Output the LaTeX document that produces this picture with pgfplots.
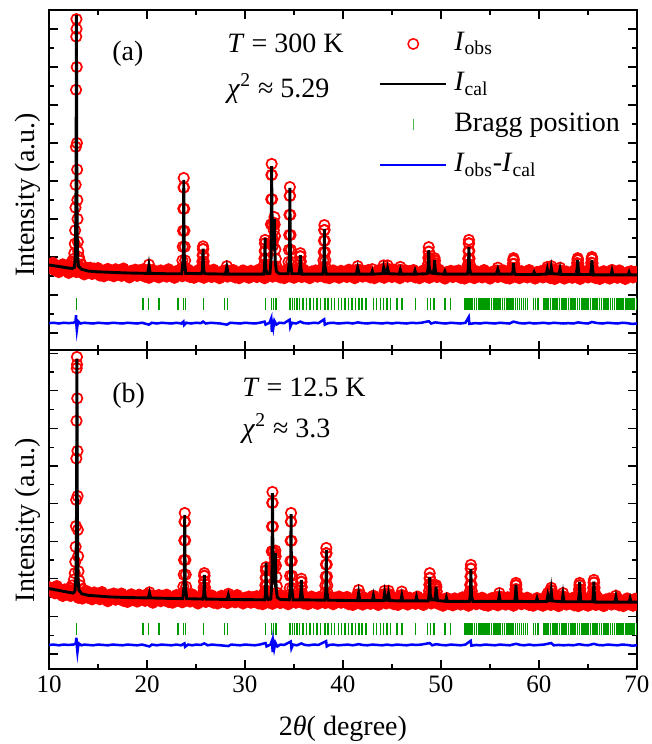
\documentclass[border=0pt]{standalone}
\usepackage{fontspec}
\setmainfont{Liberation Serif}
\usepackage{pgfplots}
\usepackage{pgfplotstable}
\pgfplotsset{compat=1.18}

\definecolor{braggc}{RGB}{0,155,0}

% observed intensity on a 0.2 deg grid: x, panel (a), panel (b)
\pgfplotstableread[row sep=\\]{
x a b\\
10.0 1.82 1.78\\ 10.2 1.70 1.67\\ 10.4 1.85 1.74\\ 10.6 1.65 1.61\\ 10.8 1.76 1.81\\
11.0 1.60 1.60\\ 11.2 1.77 1.68\\ 11.4 1.81 1.54\\ 11.6 1.65 1.72\\ 11.8 1.72 1.64\\
12.0 1.58 1.71\\ 12.2 1.77 1.54\\ 12.4 1.66 1.69\\ 12.6 1.73 1.57\\ 12.8 1.60 1.72\\
13.0 1.77 1.49\\ 13.2 1.60 1.60\\ 13.4 1.68 1.47\\ 13.6 1.54 1.64\\ 13.8 1.72 1.68\\
14.0 1.61 1.49\\ 14.2 1.72 1.56\\ 14.4 1.55 1.45\\ 14.6 1.70 1.64\\ 14.8 1.58 1.53\\
15.0 1.71 1.58\\ 15.2 1.51 1.45\\ 15.4 1.62 1.65\\ 15.6 1.49 1.48\\ 15.8 1.66 1.56\\
16.0 1.69 1.40\\ 16.2 1.53 1.58\\ 16.4 1.60 1.50\\ 16.6 1.49 1.61\\ 16.8 1.68 1.44\\
17.0 1.56 1.58\\ 17.2 1.63 1.46\\ 17.4 1.50 1.61\\ 17.6 1.70 1.41\\ 17.8 1.53 1.52\\
18.0 1.60 1.38\\ 18.2 1.46 1.55\\ 18.4 1.64 1.59\\ 18.6 1.56 1.43\\ 18.8 1.67 1.50\\
19.0 1.50 1.39\\ 19.2 1.65 1.58\\ 19.4 1.53 1.47\\ 19.6 1.68 1.54\\ 19.8 1.48 1.41\\
20.0 1.58 1.59\\ 20.2 1.45 1.42\\ 20.4 1.62 1.50\\ 20.6 1.66 1.36\\ 20.8 1.50 1.54\\
21.0 1.57 1.46\\ 21.2 1.46 1.57\\ 21.4 1.65 1.40\\ 21.6 1.54 1.55\\ 21.8 1.61 1.43\\
22.0 1.48 1.58\\ 22.2 1.68 1.38\\ 22.4 1.51 1.49\\ 22.6 1.59 1.36\\ 22.8 1.45 1.53\\
23.0 1.63 1.57\\ 23.2 1.55 1.41\\ 23.4 1.66 1.48\\ 23.6 1.49 1.37\\ 23.8 1.64 1.56\\
24.0 1.52 1.45\\ 24.2 1.67 1.52\\ 24.4 1.47 1.39\\ 24.6 1.58 1.59\\ 24.8 1.45 1.42\\
25.0 1.61 1.48\\ 25.2 1.65 1.34\\ 25.4 1.49 1.52\\ 25.6 1.56 1.44\\ 25.8 1.45 1.55\\
26.0 1.64 1.38\\ 26.2 1.53 1.53\\ 26.4 1.60 1.41\\ 26.6 1.47 1.56\\ 26.8 1.67 1.36\\
27.0 1.50 1.47\\ 27.2 1.58 1.34\\ 27.4 1.44 1.51\\ 27.6 1.62 1.55\\ 27.8 1.54 1.39\\
28.0 1.65 1.46\\ 28.2 1.48 1.35\\ 28.4 1.63 1.54\\ 28.6 1.51 1.43\\ 28.8 1.66 1.50\\
29.0 1.46 1.37\\ 29.2 1.57 1.57\\ 29.4 1.44 1.40\\ 29.6 1.61 1.48\\ 29.8 1.65 1.34\\
30.0 1.49 1.50\\ 30.2 1.56 1.42\\ 30.4 1.45 1.53\\ 30.6 1.64 1.36\\ 30.8 1.53 1.51\\
31.0 1.60 1.39\\ 31.2 1.47 1.54\\ 31.4 1.67 1.34\\ 31.6 1.50 1.45\\ 31.8 1.58 1.32\\
32.0 1.44 1.49\\ 32.2 1.62 1.53\\ 32.4 1.54 1.37\\ 32.6 1.65 1.44\\ 32.8 1.48 1.33\\
33.0 1.63 1.52\\ 33.2 1.51 1.41\\ 33.4 1.66 1.48\\ 33.6 1.46 1.35\\ 33.8 1.57 1.55\\
34.0 1.44 1.38\\ 34.2 1.61 1.46\\ 34.4 1.65 1.32\\ 34.6 1.49 1.50\\ 34.8 1.56 1.42\\
35.0 1.45 1.53\\ 35.2 1.64 1.36\\ 35.4 1.53 1.51\\ 35.6 1.60 1.39\\ 35.8 1.47 1.54\\
36.0 1.67 1.34\\ 36.2 1.50 1.45\\ 36.4 1.58 1.32\\ 36.6 1.44 1.49\\ 36.8 1.62 1.53\\
37.0 1.54 1.37\\ 37.2 1.65 1.44\\ 37.4 1.48 1.33\\ 37.6 1.63 1.52\\ 37.8 1.51 1.41\\
38.0 1.66 1.48\\ 38.2 1.46 1.35\\ 38.4 1.57 1.55\\ 38.6 1.44 1.38\\ 38.8 1.61 1.46\\
39.0 1.65 1.32\\ 39.2 1.49 1.50\\ 39.4 1.56 1.42\\ 39.6 1.45 1.53\\ 39.8 1.64 1.36\\
40.0 1.53 1.49\\ 40.2 1.60 1.37\\ 40.4 1.47 1.52\\ 40.6 1.67 1.32\\ 40.8 1.50 1.43\\
41.0 1.58 1.30\\ 41.2 1.44 1.47\\ 41.4 1.62 1.51\\ 41.6 1.54 1.35\\ 41.8 1.65 1.42\\
42.0 1.48 1.31\\ 42.2 1.63 1.50\\ 42.4 1.51 1.39\\ 42.6 1.66 1.46\\ 42.8 1.46 1.33\\
43.0 1.57 1.53\\ 43.2 1.44 1.36\\ 43.4 1.61 1.44\\ 43.6 1.65 1.30\\ 43.8 1.49 1.48\\
44.0 1.56 1.40\\ 44.2 1.45 1.51\\ 44.4 1.64 1.34\\ 44.6 1.53 1.49\\ 44.8 1.60 1.37\\
45.0 1.47 1.52\\ 45.2 1.67 1.32\\ 45.4 1.50 1.43\\ 45.6 1.58 1.30\\ 45.8 1.44 1.47\\
46.0 1.62 1.51\\ 46.2 1.54 1.35\\ 46.4 1.65 1.42\\ 46.6 1.48 1.31\\ 46.8 1.63 1.50\\
47.0 1.51 1.39\\ 47.2 1.66 1.46\\ 47.4 1.46 1.33\\ 47.6 1.57 1.53\\ 47.8 1.44 1.36\\
48.0 1.61 1.44\\ 48.2 1.65 1.30\\ 48.4 1.49 1.48\\ 48.6 1.56 1.40\\ 48.8 1.45 1.51\\
49.0 1.64 1.34\\ 49.2 1.53 1.49\\ 49.4 1.60 1.37\\ 49.6 1.47 1.52\\ 49.8 1.67 1.32\\
50.0 1.49 1.41\\ 50.2 1.57 1.28\\ 50.4 1.43 1.45\\ 50.6 1.61 1.49\\ 50.8 1.53 1.33\\
51.0 1.64 1.40\\ 51.2 1.47 1.29\\ 51.4 1.62 1.48\\ 51.6 1.50 1.37\\ 51.8 1.65 1.44\\
52.0 1.45 1.31\\ 52.2 1.56 1.51\\ 52.4 1.43 1.34\\ 52.6 1.60 1.42\\ 52.8 1.64 1.28\\
53.0 1.48 1.46\\ 53.2 1.55 1.38\\ 53.4 1.44 1.49\\ 53.6 1.63 1.32\\ 53.8 1.52 1.47\\
54.0 1.59 1.35\\ 54.2 1.46 1.50\\ 54.4 1.66 1.30\\ 54.6 1.49 1.41\\ 54.8 1.57 1.28\\
55.0 1.43 1.45\\ 55.2 1.61 1.49\\ 55.4 1.53 1.33\\ 55.6 1.64 1.40\\ 55.8 1.47 1.29\\
56.0 1.62 1.48\\ 56.2 1.50 1.37\\ 56.4 1.65 1.44\\ 56.6 1.45 1.31\\ 56.8 1.56 1.51\\
57.0 1.43 1.34\\ 57.2 1.60 1.42\\ 57.4 1.64 1.28\\ 57.6 1.48 1.46\\ 57.8 1.55 1.38\\
58.0 1.44 1.49\\ 58.2 1.63 1.32\\ 58.4 1.52 1.47\\ 58.6 1.59 1.35\\ 58.8 1.46 1.50\\
59.0 1.66 1.30\\ 59.2 1.49 1.41\\ 59.4 1.57 1.28\\ 59.6 1.43 1.45\\ 59.8 1.61 1.49\\
60.0 1.52 1.32\\ 60.2 1.63 1.39\\ 60.4 1.46 1.28\\ 60.6 1.61 1.47\\ 60.8 1.49 1.36\\
61.0 1.64 1.43\\ 61.2 1.44 1.30\\ 61.4 1.55 1.50\\ 61.6 1.42 1.33\\ 61.8 1.59 1.41\\
62.0 1.63 1.27\\ 62.2 1.47 1.45\\ 62.4 1.54 1.37\\ 62.6 1.43 1.48\\ 62.8 1.62 1.31\\
63.0 1.51 1.46\\ 63.2 1.58 1.34\\ 63.4 1.45 1.49\\ 63.6 1.65 1.29\\ 63.8 1.48 1.40\\
64.0 1.56 1.27\\ 64.2 1.42 1.44\\ 64.4 1.60 1.48\\ 64.6 1.52 1.32\\ 64.8 1.63 1.39\\
65.0 1.46 1.28\\ 65.2 1.61 1.47\\ 65.4 1.49 1.36\\ 65.6 1.64 1.43\\ 65.8 1.44 1.30\\
66.0 1.55 1.50\\ 66.2 1.42 1.33\\ 66.4 1.59 1.41\\ 66.6 1.63 1.27\\ 66.8 1.47 1.45\\
67.0 1.54 1.37\\ 67.2 1.43 1.48\\ 67.4 1.62 1.31\\ 67.6 1.51 1.46\\ 67.8 1.58 1.34\\
68.0 1.45 1.49\\ 68.2 1.65 1.29\\ 68.4 1.48 1.40\\ 68.6 1.56 1.27\\ 68.8 1.42 1.44\\
69.0 1.60 1.48\\ 69.2 1.52 1.32\\ 69.4 1.63 1.39\\ 69.6 1.46 1.28\\ 69.8 1.61 1.47\\
70.0 1.49 1.36\\
}\obsgrid

% Bragg reflections: x, tick height in (a), in (b)
\pgfplotstableread[row sep=\\]{
x ya yb\\
12.80 0.76 0.66\\ 19.60 0.76 0.66\\ 20.13 0.76 0.66\\ 21.22 0.76 0.66\\ 23.18 0.76 0.66\\
23.70 0.76 0.66\\ 23.92 0.76 0.66\\ 25.76 0.76 0.66\\ 27.88 0.76 0.66\\ 28.20 0.76 0.66\\
32.10 0.76 0.66\\ 32.72 0.76 0.66\\ 32.92 0.76 0.66\\ 33.18 0.76 0.66\\ 34.60 0.76 0.66\\
34.82 0.76 0.66\\ 35.05 0.76 0.66\\ 35.30 0.76 0.66\\ 35.58 0.76 0.66\\ 35.90 0.76 0.66\\
36.25 0.76 0.66\\ 36.62 0.76 0.66\\ 37.00 0.76 0.66\\ 37.35 0.76 0.66\\ 37.70 0.76 0.66\\
38.15 0.76 0.66\\ 38.45 0.76 0.66\\ 38.80 0.76 0.66\\ 39.15 0.76 0.66\\ 39.52 0.76 0.66\\
39.85 0.76 0.66\\ 40.20 0.76 0.66\\ 40.55 0.76 0.66\\ 40.92 0.76 0.66\\ 41.30 0.76 0.66\\
41.62 0.76 0.66\\ 41.95 0.76 0.66\\ 42.35 0.76 0.66\\ 43.10 0.76 0.66\\ 43.42 0.76 0.66\\
43.80 0.76 0.66\\ 44.15 0.76 0.66\\ 44.50 0.76 0.66\\ 44.85 0.76 0.66\\ 45.52 0.76 0.66\\
46.02 0.76 0.66\\ 47.38 0.76 0.66\\ 48.60 0.76 0.66\\ 48.92 0.76 0.66\\ 49.28 0.76 0.66\\
50.42 0.76 0.66\\ 50.95 0.76 0.66\\ 52.45 0.76 0.66\\ 52.65 0.76 0.66\\ 52.85 0.76 0.66\\
53.05 0.76 0.66\\ 53.22 0.76 0.66\\ 53.42 0.76 0.66\\ 53.62 0.76 0.66\\ 53.80 0.76 0.66\\
53.98 0.76 0.66\\ 54.20 0.76 0.66\\ 54.40 0.76 0.66\\ 54.58 0.76 0.66\\ 54.78 0.76 0.66\\
54.95 0.76 0.66\\ 55.15 0.76 0.66\\ 55.35 0.76 0.66\\ 55.52 0.76 0.66\\ 55.72 0.76 0.66\\
55.90 0.76 0.66\\ 56.10 0.76 0.66\\ 56.30 0.76 0.66\\ 56.48 0.76 0.66\\ 56.68 0.76 0.66\\
56.85 0.76 0.66\\ 57.05 0.76 0.66\\ 57.25 0.76 0.66\\ 57.42 0.76 0.66\\ 57.62 0.76 0.66\\
57.80 0.76 0.66\\ 58.00 0.76 0.66\\ 58.20 0.76 0.66\\ 58.40 0.76 0.66\\ 58.62 0.76 0.66\\
58.80 0.76 0.66\\ 59.42 0.76 0.66\\ 59.62 0.76 0.66\\ 59.88 0.76 0.66\\ 60.45 0.76 0.66\\
60.62 0.76 0.66\\ 60.80 0.76 0.66\\ 60.98 0.76 0.66\\ 61.15 0.76 0.66\\ 61.35 0.76 0.66\\
61.52 0.76 0.66\\ 61.72 0.76 0.66\\ 61.90 0.76 0.66\\ 62.08 0.76 0.66\\ 62.28 0.76 0.66\\
62.45 0.76 0.66\\ 62.65 0.76 0.66\\ 62.82 0.76 0.66\\ 63.00 0.76 0.66\\ 63.20 0.76 0.66\\
63.38 0.76 0.66\\ 63.58 0.76 0.66\\ 63.75 0.76 0.66\\ 63.95 0.76 0.66\\ 64.12 0.76 0.66\\
64.32 0.76 0.66\\ 64.50 0.76 0.66\\ 64.70 0.76 0.66\\ 64.88 0.76 0.66\\ 65.08 0.76 0.66\\
65.25 0.76 0.66\\ 65.45 0.76 0.66\\ 65.62 0.76 0.66\\ 65.82 0.76 0.66\\ 66.00 0.76 0.66\\
66.20 0.76 0.66\\ 66.38 0.76 0.66\\ 66.58 0.76 0.66\\ 66.75 0.76 0.66\\ 66.95 0.76 0.66\\
67.12 0.76 0.66\\ 67.32 0.76 0.66\\ 67.50 0.76 0.66\\ 67.70 0.76 0.66\\ 67.88 0.76 0.66\\
68.08 0.76 0.66\\ 68.25 0.76 0.66\\ 68.45 0.76 0.66\\ 68.62 0.76 0.66\\ 68.82 0.76 0.66\\
69.00 0.76 0.66\\ 69.20 0.76 0.66\\ 69.38 0.76 0.66\\ 69.58 0.76 0.66\\ 69.75 0.76 0.66\\
69.95 0.76 0.66\\
}\bragg

\pgfplotsset{
  xrd/.style={
    scale only axis, width=294pt,
    xmin=10, xmax=70,
    xtick={10,20,...,70}, minor x tick num=1,
    ytick={0,1,...,8}, minor y tick num=1, yticklabels={},
    major tick length=4.5pt, minor tick length=2.5pt,
    axis line style={line width=1pt},
    every tick/.style={black, line width=0.65pt},
    tick label style={font=\fontsize{12.5}{15}\selectfont},
    /pgf/number format/assume math mode=true,
    ylabel={Intensity (a.u.)},
    % draw marks in plot order, so the calculated line lies on top of the data
    clip marker paths=true,
  },
  obs/.style={only marks, mark=o, mark size=2.6pt, color=red,
    mark options={draw=red, line width=0.85pt},
    legend image code/.code={\draw[red, line width=0.75pt] (16.5pt,0pt) circle[radius=2.6pt];}},
  % the densely packed baseline circles merge into a solid band
  obsband/.style={obs, mark=*, mark options={draw=red, fill=red, line width=0.75pt}},
  cal/.style={color=black, line width=1.45pt,
    legend image code/.code={\draw[black, line width=1pt] (0pt,0pt) -- (33pt,0pt);}},
  braggs/.style={only marks, mark=|, mark size=3pt, color=braggc,
    mark options={draw=braggc, line width=0.7pt},
    legend image code/.code={\draw[braggc!70, line width=0.7pt] (16.5pt,-2.75pt) -- (16.5pt,2.75pt);}},
  diff/.style={color=blue, line width=1.25pt,
    legend image code/.code={\draw[blue, line width=1pt] (0pt,0pt) -- (33pt,0pt);}},
}

\begin{document}
\begin{tikzpicture}[font=\fontsize{14}{16.8}\selectfont]

% ---------- panel (a), T = 300 K ----------
\begin{axis}[xrd, at={(0,0)}, anchor=south west,
  height=170pt, ymin=-0.447, ymax=8.5, xticklabels={},
  ylabel style={at={(axis description cs:-0.0255,0.456)}, anchor=base},
  legend style={at={(axis description cs:0.561,0.947)}, anchor=north west,
    draw=none, fill=none, inner sep=0pt, row sep=4.75pt, column sep=2.5pt,
    nodes={inner sep=1pt, text height=10pt, text depth=3.5pt}},
  legend cell align=left]
\addplot[obsband] table[x=x, y=a] {\obsgrid};
\addlegendentry{\textit{I}\textsubscript{obs}}
\addplot[obs, forget plot] coordinates {
 (12.20,1.82)(12.35,1.88)(12.50,1.95)(12.58,2.10)(12.63,2.35)(12.67,2.70)(12.70,3.30)
 (12.72,3.90)(12.74,4.90)(12.76,6.40)(12.78,7.80)(12.80,8.26)(12.81,8.00)(12.83,7.00)
 (12.85,5.00)(12.87,4.30)(12.89,3.50)(12.91,3.00)(12.94,2.40)(12.98,2.15)(13.05,2.00)
 (13.15,1.90)(13.30,1.80)
 (20.10,1.66)(20.20,1.80)(20.30,1.66)
 (23.55,1.71)(23.61,1.91)(23.65,2.27)(23.68,2.69)(23.705,3.27)(23.73,3.83)(23.75,4.08)
 (23.77,3.83)(23.795,3.27)(23.82,2.69)(23.85,2.27)(23.89,1.91)(23.95,1.71)
 (25.52,1.60)(25.58,1.66)(25.62,1.76)(25.65,1.88)(25.675,2.05)(25.70,2.21)(25.72,2.28)
 (25.74,2.21)(25.765,2.05)(25.79,1.88)(25.82,1.76)(25.86,1.66)(25.92,1.60)
 (28.05,1.64)(28.15,1.76)(28.25,1.64)
 (31.85,1.60)(31.91,1.68)(31.95,1.80)(31.98,1.96)(32.005,2.16)(32.03,2.36)(32.05,2.45)
 (32.07,2.36)(32.095,2.16)(32.12,1.96)(32.15,1.80)(32.19,1.68)(32.25,1.60)
 (32.52,1.72)(32.58,1.96)(32.62,2.36)(32.65,2.86)(32.675,3.52)(32.70,4.16)(32.72,4.45)
 (32.74,4.16)(32.765,3.52)(32.79,2.86)(32.82,2.40)(32.86,2.30)
 (32.90,2.45)(32.94,2.70)(32.97,2.90)(33.00,3.05)(33.03,2.85)(33.06,2.55)(33.10,2.20)
 (33.15,1.95)(33.22,1.75)(33.30,1.62)
 (34.38,1.69)(34.44,1.87)(34.48,2.19)(34.51,2.58)(34.535,3.11)(34.56,3.61)(34.58,3.84)
 (34.60,3.61)(34.625,3.11)(34.65,2.58)(34.68,2.19)(34.72,1.87)(34.78,1.69)
 (35.50,1.62)(35.56,1.72)(35.60,1.88)(35.63,2.02)(35.65,2.10)(35.67,2.02)(35.70,1.88)
 (35.74,1.72)(35.80,1.62)
 (37.90,1.63)(37.96,1.73)(38.00,1.91)(38.03,2.13)(38.055,2.43)(38.08,2.71)(38.10,2.84)
 (38.12,2.71)(38.145,2.43)(38.17,2.13)(38.20,1.91)(38.24,1.73)(38.30,1.63)
 (41.38,1.66)(41.50,1.76)(41.62,1.66)(43.00,1.68)
 (44.05,1.68)(44.15,1.78)(44.25,1.70)(44.45,1.70)(44.55,1.78)(44.65,1.68)
 (45.75,1.66)(45.85,1.74)(45.95,1.66)
 (48.58,1.62)(48.64,1.70)(48.68,1.82)(48.71,1.98)(48.735,2.14)(48.75,2.26)(48.77,2.14)
 (48.80,1.98)(48.84,1.90)
 (49.22,1.80)(49.28,1.85)(49.32,1.92)(49.35,1.97)(49.38,1.90)(49.42,1.78)(49.50,1.65)
 (52.65,1.60)(52.71,1.68)(52.75,1.80)(52.78,1.96)(52.805,2.16)(52.83,2.36)(52.85,2.45)
 (52.87,2.36)(52.895,2.16)(52.92,1.96)(52.95,1.80)(52.99,1.68)(53.05,1.60)
 (55.65,1.64)(55.80,1.72)(55.95,1.64)
 (57.22,1.62)(57.28,1.70)(57.33,1.82)(57.37,1.92)(57.40,1.97)(57.43,1.92)(57.47,1.82)
 (57.52,1.70)(57.58,1.62)
 (60.70,1.66)(60.85,1.74)(61.00,1.70)(61.15,1.70)(61.25,1.76)(61.35,1.68)
 (62.05,1.65)(62.15,1.72)(62.25,1.64)
 (63.78,1.62)(63.84,1.72)(63.89,1.84)(63.93,1.93)(63.95,1.97)(63.98,1.92)(64.02,1.82)
 (64.07,1.70)(64.13,1.61)
 (65.22,1.62)(65.28,1.72)(65.33,1.85)(65.37,1.95)(65.40,2.00)(65.43,1.95)(65.47,1.84)
 (65.52,1.72)(65.58,1.62)
 (67.45,1.66)};
\addplot[cal] coordinates {
 (10,1.79)(11,1.75)(12,1.71)(12.4,1.70)(12.6,1.73)(12.7,2.1)(12.76,4.0)(12.8,8.37)
 (12.84,4.0)(12.9,2.1)(13.0,1.76)(13.3,1.68)(14,1.63)(15,1.61)(16,1.60)(18,1.58)
 (19.9,1.57)(20.08,1.57)(20.2,1.78)(20.32,1.57)(22,1.56)(23.55,1.56)(23.69,1.95)
 (23.725,2.95)(23.75,4.03)(23.775,2.95)(23.81,1.95)(23.95,1.57)(25.55,1.56)(25.66,1.66)
 (25.695,1.95)(25.72,2.22)(25.745,1.95)(25.78,1.66)(25.9,1.56)(28.0,1.55)(28.15,1.74)
 (28.3,1.55)(31.9,1.55)(31.99,1.69)(32.025,2.03)(32.05,2.5)(32.075,2.03)(32.11,1.69)
 (32.25,1.56)(32.55,1.57)(32.66,1.95)(32.695,3.2)(32.72,4.39)(32.745,3.4)(32.8,2.4)
 (32.9,2.2)(32.975,2.6)(33.0,3.0)(33.025,2.5)(33.08,1.9)(33.2,1.62)(33.5,1.56)
 (34.4,1.56)(34.52,1.90)(34.555,2.8)(34.58,3.82)(34.605,2.8)(34.64,1.90)(34.78,1.56)
 (35.5,1.56)(35.6,1.72)(35.65,2.05)(35.7,1.72)(35.8,1.55)(37.95,1.55)(38.04,1.75)
 (38.075,2.2)(38.1,2.74)(38.125,2.2)(38.16,1.75)(38.3,1.55)(41.35,1.55)(41.5,1.72)
 (41.65,1.55)(42.9,1.55)(43.0,1.63)(43.1,1.55)(44.05,1.56)(44.15,1.72)(44.3,1.57)
 (44.45,1.57)(44.55,1.70)(44.67,1.56)(45.75,1.55)(45.85,1.66)(45.97,1.55)(47.25,1.55)
 (47.35,1.64)(47.45,1.55)(48.6,1.56)(48.69,1.72)(48.725,1.95)(48.75,2.18)(48.775,1.95)
 (48.81,1.72)(48.95,1.58)(49.2,1.57)(49.3,1.70)(49.35,1.92)(49.4,1.70)(49.5,1.56)
 (50.3,1.55)(50.4,1.62)(50.5,1.55)(52.7,1.55)(52.79,1.70)(52.825,1.98)(52.85,2.26)
 (52.875,1.98)(52.91,1.70)(53.05,1.55)(55.65,1.55)(55.8,1.68)(55.95,1.55)(57.25,1.55)
 (57.34,1.62)(57.375,1.74)(57.4,1.84)(57.425,1.74)(57.46,1.62)(57.6,1.54)(59.4,1.54)
 (59.5,1.60)(59.6,1.54)(60.75,1.55)(60.85,1.68)(60.95,1.56)(61.15,1.56)(61.25,1.72)
 (61.35,1.56)(62.05,1.55)(62.15,1.68)(62.25,1.54)(63.8,1.54)(63.9,1.72)(63.95,1.92)
 (64.0,1.72)(64.1,1.54)(65.25,1.54)(65.35,1.72)(65.4,1.92)(65.45,1.72)(65.55,1.53)
 (67.35,1.53)(67.45,1.64)(67.55,1.53)(69.1,1.53)(69.2,1.60)(69.3,1.53)(70,1.53)};
\addlegendentry{\textit{I}\textsubscript{cal}}
\addplot[braggs] table[x=x, y=ya] {\bragg};
\addlegendentry{Bragg position}
\addplot[diff] coordinates {
 (10,0.26)(10.5,0.27)(11,0.25)(11.5,0.27)(12,0.26)(12.5,0.27)(12.7,0.30)(12.76,0.47)
 (12.8,0.20)(12.84,0.08)(12.9,0.20)(13.0,0.30)(13.2,0.25)(13.6,0.27)(14,0.26)(14.5,0.25)
 (15,0.27)(15.5,0.26)(16,0.25)(16.5,0.27)(17,0.26)(17.5,0.25)(18,0.27)(18.5,0.26)
 (19,0.25)(19.5,0.27)(20.2,0.22)(20.5,0.27)(21,0.25)(21.5,0.27)(22,0.26)(22.5,0.25)
 (23,0.27)(23.5,0.25)(23.72,0.30)(23.78,0.21)(24,0.27)(24.5,0.25)(25,0.27)(25.5,0.26)
 (25.72,0.30)(26,0.25)(26.5,0.27)(27,0.26)(27.5,0.25)(28.15,0.22)(28.5,0.27)(29,0.26)
 (29.5,0.25)(30,0.27)(30.5,0.26)(31,0.25)(31.5,0.27)(32.0,0.30)(32.1,0.22)(32.5,0.27)
 (32.68,0.39)(32.74,0.03)(32.8,0.35)(32.9,0.15)(33.0,0.32)(33.2,0.22)(33.5,0.27)(34,0.26)
 (34.55,0.35)(34.62,0.16)(34.8,0.27)(35.2,0.25)(35.65,0.30)(36,0.26)(36.5,0.25)(37,0.27)
 (37.5,0.26)(38.08,0.36)(38.14,0.22)(38.5,0.26)(39,0.27)(39.5,0.25)(40,0.26)(40.5,0.27)
 (41,0.25)(41.5,0.28)(42,0.26)(42.5,0.25)(43,0.27)(43.5,0.26)(44,0.25)(44.5,0.27)
 (45,0.25)(45.5,0.27)(46,0.26)(46.5,0.25)(47,0.27)(47.5,0.26)(48,0.27)(48.75,0.31)
 (49,0.25)(49.4,0.28)(50,0.26)(50.5,0.25)(51,0.27)(51.5,0.26)(52,0.25)(52.5,0.27)
 (52.83,0.42)(52.9,0.24)(53.5,0.26)(54,0.25)(54.5,0.27)(55,0.26)(55.5,0.25)(56,0.27)
 (56.5,0.26)(57,0.25)(57.4,0.30)(58,0.26)(58.5,0.25)(59,0.27)(59.5,0.25)(60,0.26)
 (60.5,0.27)(61,0.25)(61.5,0.27)(62,0.26)(62.5,0.25)(63,0.26)(63.5,0.25)(64,0.28)
 (64.5,0.26)(65,0.25)(65.4,0.29)(66,0.26)(66.5,0.25)(67,0.27)(67.5,0.26)(68,0.25)
 (68.5,0.27)(69,0.26)(69.5,0.24)(70,0.25)};
\addlegendentry{\textit{I}\textsubscript{obs}-\textit{I}\textsubscript{cal}}
\node[anchor=base west, inner sep=0pt] at (axis cs:16.43,7.18) {(a)};
\node[anchor=base west, inner sep=0pt] at (axis cs:28.16,7.39) {\textit{T} = 300 K};
\node[anchor=base west, inner sep=0pt] at (axis cs:28.16,6.21) {\textit{χ}\textsuperscript{2} ≈ 5.29};
\end{axis}

% ---------- panel (b), T = 12.5 K ----------
\begin{axis}[xrd, at={(0,0)}, anchor=north west,
  height=159.5pt, ymin=-0.40, ymax=8.085,
  xlabel={2\textit{θ}( degree)},
  xlabel style={at={(axis description cs:0.5,-0.207)}, anchor=base},
  ylabel style={at={(axis description cs:-0.0255,0.467)}, anchor=base}]
\addplot[obsband] table[x=x, y=b] {\obsgrid};
\addplot[obs] coordinates {
 (12.20,1.76)(12.35,1.82)(12.55,1.98)(12.63,2.15)(12.68,2.45)(12.72,2.85)(12.75,3.40)
 (12.77,4.10)(12.79,5.20)(12.81,6.20)(12.83,7.60)(12.85,7.90)(12.86,7.70)(12.88,6.80)
 (12.90,5.40)(12.92,4.20)(12.94,3.30)(12.97,2.60)(13.01,2.20)(13.08,1.95)(13.20,1.82)
 (13.35,1.72)
 (20.15,1.56)(20.25,1.64)(20.35,1.56)
 (23.65,1.61)(23.71,1.79)(23.75,2.11)(23.78,2.50)(23.805,3.02)(23.83,3.52)(23.85,3.75)
 (23.87,3.52)(23.895,3.02)(23.92,2.50)(23.95,2.11)(23.99,1.79)(24.05,1.61)
 (25.65,1.50)(25.71,1.56)(25.75,1.65)(25.78,1.77)(25.805,1.93)(25.83,2.08)(25.85,2.15)
 (25.87,2.08)(25.895,1.93)(25.92,1.77)(25.95,1.65)(25.99,1.56)(26.05,1.50)
 (28.20,1.54)(28.30,1.60)(28.40,1.54)
 (31.95,1.49)(32.01,1.56)(32.05,1.68)(32.08,1.83)(32.105,2.03)(32.13,2.22)(32.15,2.31)
 (32.17,2.22)(32.195,2.03)(32.22,1.83)(32.25,1.68)(32.29,1.56)(32.35,1.49)
 (32.60,1.61)(32.66,1.84)(32.70,2.24)(32.73,2.73)(32.755,3.39)(32.78,4.02)(32.80,4.31)
 (32.82,4.02)(32.845,3.39)(32.87,2.73)(32.90,2.35)(32.94,2.25)
 (33.00,2.40)(33.04,2.55)(33.07,2.68)(33.10,2.75)(33.13,2.60)(33.16,2.35)(33.20,2.05)
 (33.25,1.80)(33.32,1.62)(33.40,1.52)
 (34.50,1.57)(34.56,1.75)(34.60,2.08)(34.63,2.47)(34.655,3.01)(34.68,3.52)(34.70,3.75)
 (34.72,3.52)(34.745,3.01)(34.77,2.47)(34.80,2.08)(34.84,1.75)(34.90,1.57)
 (35.60,1.52)(35.66,1.62)(35.70,1.78)(35.73,1.92)(35.75,2.00)(35.77,1.92)(35.80,1.78)
 (35.84,1.62)(35.90,1.52)
 (38.10,1.51)(38.16,1.62)(38.20,1.82)(38.23,2.06)(38.255,2.38)(38.28,2.68)(38.30,2.82)
 (38.32,2.68)(38.345,2.38)(38.37,2.06)(38.40,1.82)(38.44,1.62)(38.50,1.51)
 (41.45,1.58)(41.60,1.70)(41.75,1.58)(43.10,1.55)
 (44.15,1.58)(44.25,1.68)(44.35,1.60)(44.55,1.60)(44.65,1.68)(44.75,1.58)
 (45.90,1.56)(46.00,1.66)(46.10,1.56)
 (48.68,1.48)(48.74,1.56)(48.78,1.68)(48.81,1.84)(48.835,2.01)(48.85,2.15)(48.87,2.03)
 (48.90,1.86)(48.94,1.78)
 (49.38,1.74)(49.44,1.78)(49.47,1.81)(49.50,1.83)(49.53,1.78)(49.57,1.66)(49.65,1.52)
 (52.85,1.46)(52.91,1.54)(52.95,1.67)(52.98,1.84)(53.005,2.06)(53.03,2.27)(53.05,2.37)
 (53.07,2.27)(53.095,2.06)(53.12,1.84)(53.15,1.67)(53.19,1.54)(53.25,1.46)
 (55.80,1.52)(55.95,1.62)(56.10,1.52)
 (57.47,1.50)(57.53,1.60)(57.58,1.72)(57.62,1.83)(57.65,1.89)(57.68,1.83)(57.72,1.72)
 (57.77,1.60)(57.83,1.50)
 (60.75,1.54)(60.90,1.62)(61.05,1.58)(61.12,1.62)(61.18,1.70)(61.25,1.76)(61.32,1.68)
 (61.40,1.56)
 (62.35,1.54)(62.45,1.62)(62.55,1.52)
 (63.97,1.50)(64.03,1.60)(64.08,1.72)(64.12,1.83)(64.15,1.89)(64.18,1.83)(64.22,1.72)
 (64.27,1.60)(64.33,1.50)
 (65.42,1.50)(65.48,1.62)(65.53,1.76)(65.57,1.90)(65.60,1.97)(65.63,1.90)(65.67,1.76)
 (65.72,1.62)(65.78,1.50)
 (67.85,1.55)};
\addplot[cal] coordinates {
 (10,1.74)(11,1.69)(12,1.64)(12.45,1.62)(12.65,1.67)(12.75,2.05)(12.81,3.9)(12.85,7.85)
 (12.89,3.9)(12.95,2.05)(13.05,1.70)(13.35,1.60)(14,1.56)(15,1.54)(16,1.52)(18,1.50)
 (20.13,1.49)(20.25,1.62)(20.37,1.49)(22,1.48)(23.65,1.47)(23.79,1.82)(23.825,2.70)
 (23.85,3.70)(23.875,2.70)(23.91,1.82)(24.05,1.47)(25.68,1.46)(25.79,1.56)(25.825,1.83)
 (25.85,2.10)(25.875,1.83)(25.91,1.56)(26.03,1.46)(28.18,1.45)(28.3,1.57)(28.42,1.45)
 (32.0,1.44)(32.09,1.58)(32.125,1.98)(32.15,2.42)(32.175,1.98)(32.21,1.58)(32.35,1.45)
 (32.63,1.46)(32.74,1.85)(32.775,3.1)(32.8,4.28)(32.825,3.3)(32.88,2.3)(32.98,2.1)
 (33.075,2.35)(33.1,2.69)(33.125,2.25)(33.18,1.75)(33.3,1.50)(33.6,1.45)(34.52,1.44)
 (34.64,1.79)(34.675,2.7)(34.7,3.72)(34.725,2.7)(34.76,1.79)(34.9,1.44)(35.6,1.44)
 (35.7,1.62)(35.75,1.97)(35.8,1.62)(35.9,1.44)(38.15,1.43)(38.24,1.64)(38.275,2.15)
 (38.3,2.77)(38.325,2.15)(38.36,1.64)(38.5,1.43)(41.48,1.42)(41.6,1.62)(41.72,1.42)
 (43.0,1.42)(43.1,1.55)(43.2,1.42)(44.15,1.42)(44.25,1.62)(44.38,1.43)(44.55,1.43)
 (44.65,1.60)(44.77,1.42)(45.9,1.41)(46.0,1.55)(46.1,1.41)(47.4,1.41)(47.5,1.52)
 (47.6,1.41)(48.7,1.41)(48.79,1.58)(48.825,1.82)(48.85,2.05)(48.875,1.82)(48.91,1.58)
 (49.05,1.44)(49.38,1.44)(49.45,1.60)(49.5,1.79)(49.55,1.60)(49.65,1.42)(50.45,1.40)
 (50.55,1.50)(50.65,1.40)(52.9,1.40)(52.99,1.55)(53.025,1.90)(53.05,2.26)(53.075,1.90)
 (53.11,1.55)(53.25,1.40)(55.85,1.40)(55.95,1.55)(56.05,1.40)(57.52,1.40)(57.6,1.58)
 (57.65,1.84)(57.7,1.58)(57.78,1.40)(59.7,1.39)(59.8,1.48)(59.9,1.39)(60.8,1.40)
 (60.9,1.55)(61.0,1.42)(61.15,1.42)(61.25,1.67)(61.35,1.41)(62.35,1.39)(62.45,1.58)
 (62.55,1.39)(64.02,1.39)(64.1,1.60)(64.15,1.92)(64.2,1.60)(64.28,1.39)(65.48,1.39)
 (65.55,1.60)(65.6,1.92)(65.65,1.60)(65.72,1.38)(67.75,1.38)(67.85,1.52)(67.95,1.38)
 (69.2,1.38)(69.3,1.48)(69.4,1.38)(70,1.38)};
\addplot[braggs] table[x=x, y=yb] {\bragg};
\addplot[diff] coordinates {
 (10,0.24)(10.5,0.25)(11,0.23)(11.5,0.25)(12,0.24)(12.5,0.25)(12.72,0.28)(12.8,0.43)
 (12.85,0.18)(12.9,0.05)(12.96,0.18)(13.05,0.28)(13.3,0.23)(13.6,0.25)(14,0.24)(14.5,0.23)
 (15,0.25)(15.5,0.24)(16,0.23)(16.5,0.25)(17,0.24)(17.5,0.23)(18,0.25)(18.5,0.24)
 (19,0.23)(19.5,0.25)(20.25,0.20)(20.5,0.25)(21,0.23)(21.5,0.25)(22,0.24)(22.5,0.23)
 (23,0.25)(23.5,0.23)(23.82,0.28)(23.88,0.19)(24.2,0.25)(24.6,0.23)(25,0.25)(25.5,0.24)
 (25.85,0.28)(26.2,0.23)(26.6,0.25)(27,0.24)(27.5,0.23)(28.3,0.21)(28.6,0.25)(29,0.24)
 (29.5,0.23)(30,0.25)(30.5,0.24)(31,0.23)(31.5,0.25)(32.1,0.29)(32.2,0.20)(32.6,0.25)
 (32.76,0.36)(32.82,0.05)(32.88,0.32)(32.98,0.14)(33.1,0.30)(33.3,0.20)(33.6,0.25)(34,0.24)
 (34.67,0.33)(34.74,0.15)(34.9,0.25)(35.3,0.23)(35.75,0.28)(36.1,0.24)(36.5,0.23)(37,0.25)
 (37.5,0.24)(38.28,0.34)(38.34,0.20)(38.6,0.24)(39,0.25)(39.5,0.23)(40,0.24)(40.5,0.25)
 (41,0.23)(41.6,0.26)(42,0.24)(42.5,0.23)(43,0.25)(43.5,0.24)(44,0.23)(44.5,0.25)
 (45,0.23)(45.5,0.25)(46,0.24)(46.5,0.23)(47,0.25)(47.5,0.24)(48,0.25)(48.85,0.29)
 (49.1,0.23)(49.5,0.26)(50,0.24)(50.5,0.23)(51,0.25)(51.5,0.24)(52,0.23)(52.5,0.25)
 (53.03,0.35)(53.1,0.22)(53.6,0.24)(54,0.23)(54.5,0.25)(55,0.24)(55.5,0.23)(56,0.25)
 (56.5,0.24)(57,0.23)(57.65,0.27)(58.1,0.24)(58.5,0.23)(59,0.25)(59.5,0.23)(60,0.24)
 (60.5,0.25)(61.25,0.29)(61.5,0.23)(62,0.24)(62.5,0.23)(63,0.24)(63.5,0.23)(64.1,0.26)
 (64.5,0.24)(65,0.23)(65.6,0.27)(66,0.24)(66.5,0.23)(67,0.25)(67.5,0.24)(68,0.23)
 (68.5,0.25)(69,0.24)(69.5,0.22)(70,0.23)};
\node[anchor=base west, inner sep=0pt] at (axis cs:16.43,6.70) {(b)};
\node[anchor=base west, inner sep=0pt] at (axis cs:29.7,6.84) {\textit{T} = 12.5 K};
\node[anchor=base west, inner sep=0pt] at (axis cs:29.7,5.77) {\textit{χ}\textsuperscript{2} ≈ 3.3};
\end{axis}

\pgfresetboundingbox
\path (-24.5pt,-197pt) rectangle (301.5pt,175pt);
\end{tikzpicture}
\end{document}
